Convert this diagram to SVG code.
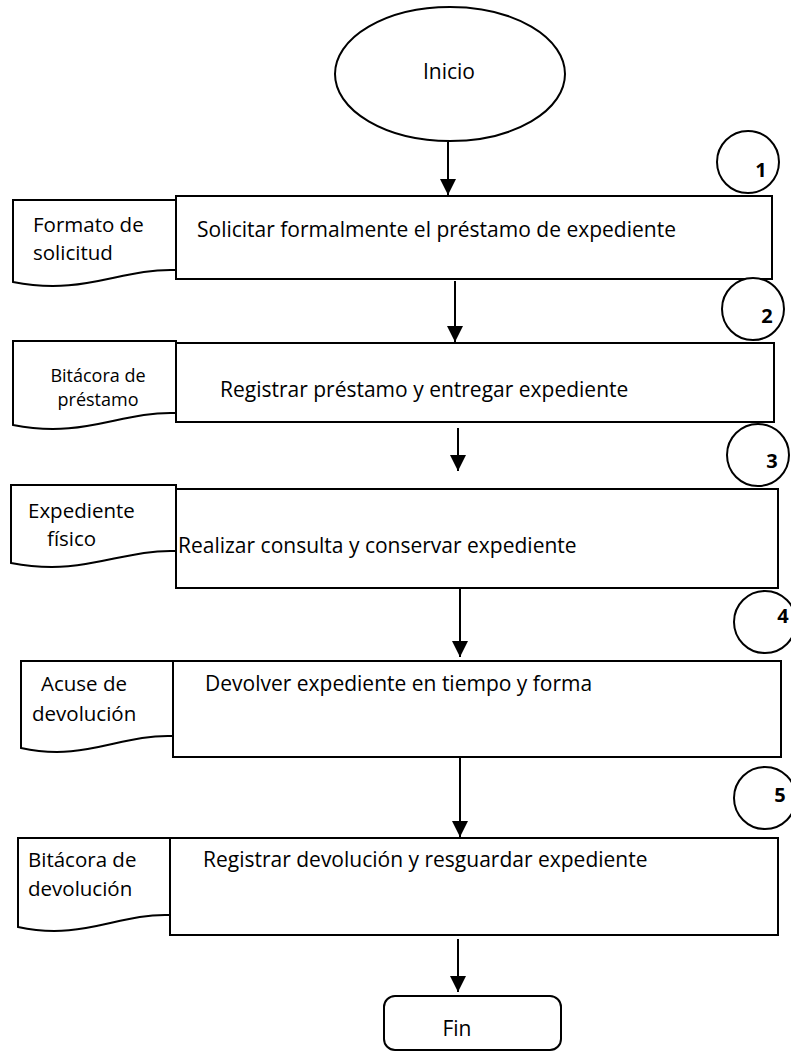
<svg xmlns="http://www.w3.org/2000/svg" width="791" height="1057" viewBox="0 0 791 1057">
<defs>
<style>
.s{fill:#fff;stroke:#000;stroke-width:2}
.t{font-family:"Open Sans","Liberation Sans",sans-serif;font-size:21px;fill:#000}
.d{font-family:"Open Sans","Liberation Sans",sans-serif;font-size:20.5px;fill:#000}
.ts{font-family:"Open Sans","Liberation Sans",sans-serif;font-size:18px;fill:#000}
.n{font-family:"Open Sans","Liberation Sans",sans-serif;font-size:20px;font-weight:bold;fill:#000;text-anchor:middle}
.c{stroke:#000;stroke-width:2;fill:none}
</style>
<marker id="ah" markerWidth="16" markerHeight="16" viewBox="0 0 16 16" refX="16" refY="8" orient="auto" markerUnits="userSpaceOnUse">
<path d="M0,0 L16,8 L0,16 Z" fill="#000"/>
</marker>
</defs>
<rect width="791" height="1057" fill="#fff"/>
<g id="inicio">
<ellipse class="s" cx="450" cy="74" rx="115" ry="67"/>
<text class="t" x="449" y="79" text-anchor="middle">Inicio</text>
</g>
<g id="connectors">
<line class="c" x1="448" y1="142" x2="448" y2="195" marker-end="url(#ah)"/>
<line class="c" x1="455" y1="281" x2="455" y2="342" marker-end="url(#ah)"/>
<line class="c" x1="458" y1="428" x2="458" y2="471" marker-end="url(#ah)"/>
<line class="c" x1="460" y1="589" x2="460" y2="657" marker-end="url(#ah)"/>
<line class="c" x1="460" y1="758" x2="460" y2="837" marker-end="url(#ah)"/>
<line class="c" x1="458" y1="939" x2="458" y2="992" marker-end="url(#ah)"/>
</g>
<g id="step1">
<circle class="s" cx="748" cy="162" r="31"/>
<text class="n" x="761" y="177">1</text>
<path class="s" d="M13,200 H176 V270 C120,268 85,296 13,282 Z"/>
<text class="d" x="33" y="232">Formato de</text>
<text class="d" x="33" y="260">solicitud</text>
<rect class="s" x="176" y="196" width="596" height="83"/>
<text class="t" x="197" y="237">Solicitar formalmente el préstamo de expediente</text>
</g>
<g id="step2">
<circle class="s" cx="753" cy="309" r="31"/>
<text class="n" x="767" y="323">2</text>
<path class="s" d="M13,341 H176 V413 C120,411 85,439 13,425 Z"/>
<text class="ts" x="98" y="382" text-anchor="middle">Bitácora de</text>
<text class="ts" x="98" y="406" text-anchor="middle">préstamo</text>
<rect class="s" x="176" y="343" width="598" height="79"/>
<text class="t" x="220" y="397">Registrar préstamo y entregar expediente</text>
</g>
<g id="step3">
<circle class="s" cx="758" cy="455" r="31"/>
<text class="n" x="772" y="468">3</text>
<path class="s" d="M11,485 H176 V551 C120,549 85,577 11,563 Z"/>
<text class="d" x="28" y="518">Expediente</text>
<text class="d" x="47" y="546">físico</text>
<rect class="s" x="176" y="489" width="602" height="99"/>
<text class="t" x="178" y="553">Realizar consulta y conservar expediente</text>
</g>
<g id="step4">
<circle class="s" cx="765" cy="622" r="31"/>
<text class="n" x="783" y="623">4</text>
<path class="s" d="M21,661 H173 V736 C120,734 85,762 21,748 Z"/>
<text class="d" x="41" y="691">Acuse de</text>
<text class="d" x="32" y="721">devolución</text>
<rect class="s" x="173" y="661" width="608" height="96"/>
<text class="t" x="205" y="691">Devolver expediente en tiempo y forma</text>
</g>
<g id="step5">
<circle class="s" cx="765" cy="798" r="31"/>
<text class="n" x="780" y="802">5</text>
<path class="s" d="M18,838 H170 V915 C118,913 83,941 18,927 Z"/>
<text class="d" x="28" y="867">Bitácora de</text>
<text class="d" x="28" y="896">devolución</text>
<rect class="s" x="170" y="838" width="608" height="97"/>
<text class="t" x="203" y="867">Registrar devolución y resguardar expediente</text>
</g>
<g id="fin">
<rect class="s" x="384" y="996" width="177" height="54" rx="11"/>
<text class="t" x="457" y="1036" text-anchor="middle">Fin</text>
</g>
</svg>
